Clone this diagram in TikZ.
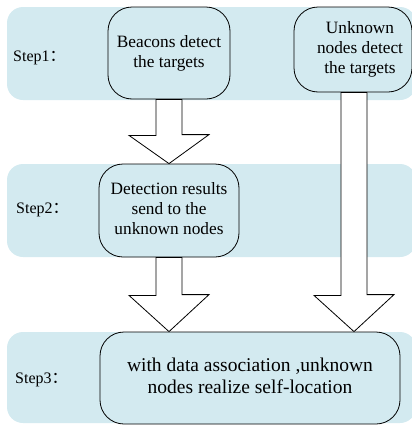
\documentclass[tikz,border=0pt]{standalone}
\usepackage{fontspec}
\setmainfont{Liberation Serif}
\newfontfamily\cjk{Noto Sans CJK SC}
\newfontfamily\timesfont{Liberation Serif}
\usetikzlibrary{calc}
\definecolor{bandblue}{RGB}{211,234,240}
\tikzset{
  band/.style={fill=bandblue, rounded corners=16pt},
  stepbox/.style={draw=black, line width=0.8pt, fill=bandblue, rounded corners=24pt,
    inner sep=0pt, font=\timesfont\fontsize{17.3}{20}\selectfont},
  steplabel/.style={anchor=west, inner sep=0pt, font=\timesfont\fontsize{16}{18}\selectfont},
  blockarrow/.style={draw=black, line width=0.8pt, fill=white, line join=miter}
}
\begin{document}
\begin{tikzpicture}[x=1pt,y=-1pt]
\useasboundingbox (0,0) rectangle (412,426);
\clip (0,0) rectangle (412,426);
% bands
\fill[band] (7,7) rectangle (416,100);
\fill[band] (7,164) rectangle (416,257);
\fill[band] (7,332) rectangle (416,423);
% step labels
\node[steplabel] (s1) at (13,58) {Step1\cjk{：}};
\node[steplabel] (s2) at (16,210) {Step2\cjk{：}};
\node[steplabel] (s3) at (15,380) {Step3\cjk{：}};
% boxes
\node[stepbox, minimum width=122pt, minimum height=92pt] (b1) at (169,53)
  {\begin{tabular}{@{}c@{}}Beacons detect\\the targets\end{tabular}\hspace{14pt}};
\node[stepbox, minimum width=118pt, minimum height=85pt] (b4) at (353,49.5)
  {\hspace{14pt}\begin{tabular}{@{}c@{}}Unknown\\nodes detect\\the targets\end{tabular}};
\node[stepbox, minimum width=140pt, minimum height=93pt] (b2) at (169,210.5)
  {\begin{tabular}{@{}c@{}}Detection results\\send to the\\unknown nodes\end{tabular}};
\node[stepbox, minimum width=300pt, minimum height=92pt, font=\timesfont\fontsize{19.5}{21.5}\selectfont] (b3) at (250,378)
  {\begin{tabular}{@{}c@{}}with data association ,unknown\\nodes realize self-location\end{tabular}};
% block arrows
\draw[blockarrow] ([xshift=-13pt]b1.south) -- ++(0,36) -- ++(-27,0) -- (b2.north)
  -- ++(40,-29) -- ++(-27,0) -- ([xshift=13pt]b1.south) -- cycle;
\draw[blockarrow] ([xshift=-13pt]b2.south) -- ++(0,38) -- ++(-27,0) -- (b2.south |- b3.north)
  -- ++(40,-37) -- ++(-27,0) -- ([xshift=13pt]b2.south) -- cycle;
\draw[blockarrow] ([xshift=-12pt]b4.south) -- ++(0,203) -- ++(-27,0) -- ([xshift=1pt]b4.south |- b3.north)
  -- ++(40,-37) -- ++(-27,0) -- ([xshift=14pt]b4.south) -- cycle;
\end{tikzpicture}
\end{document}
